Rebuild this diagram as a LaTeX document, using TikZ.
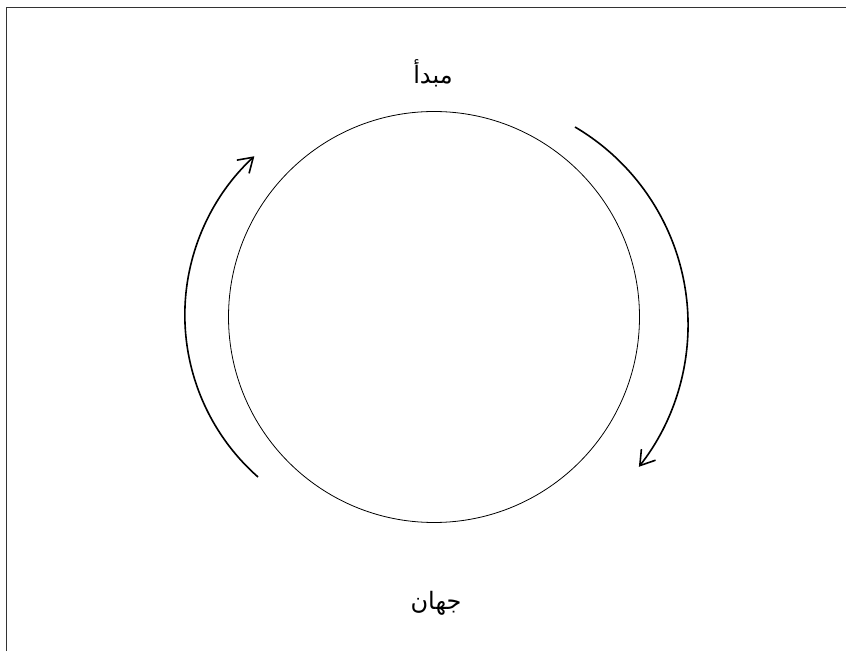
\documentclass[tikz,border=0pt]{standalone}
\usepackage{fontspec}
\newfontfamily\arabicfont[Script=Arabic]{DejaVu Sans}
\TeXXeTstate=1
\usetikzlibrary{arrows.meta,positioning}
\tikzset{
  cyc/.style = {draw, circle, line width=0.8pt, minimum size=411pt, inner sep=0pt},
  lbl/.style = {font=\arabicfont\fontsize{24}{28}\selectfont, inner sep=0pt},
  arrow/.style = {line width=1.6pt, -{Straight Barb[length=14pt,width=18pt]}},
  frameline/.style = {line width=1.5pt, draw=black!80}
}

\begin{document}
\begin{tikzpicture}[x=1pt,y=1pt]
  \useasboundingbox (0,0) rectangle (846,651);
  \draw[frameline] (6.5,0) -- (6.5,643.5) -- (846,643.5);
  \node[cyc] (cyc) at (434,334) {};
  \node[lbl] (mabda) at (433,578) {\beginR مبدأ\endR};
  \node[lbl] (jahan) at (436,48) {\beginR جهان\endR};
  \coordinate (lft) at (258,174);
  \coordinate (rgt) at (575,524);
  \draw[arrow] (lft) arc[start angle=228.6, end angle=132.7, radius=216];
  \draw[arrow] (rgt) arc[start angle=59.5, end angle=-38.2, radius=229.6];
\end{tikzpicture}
\end{document}
